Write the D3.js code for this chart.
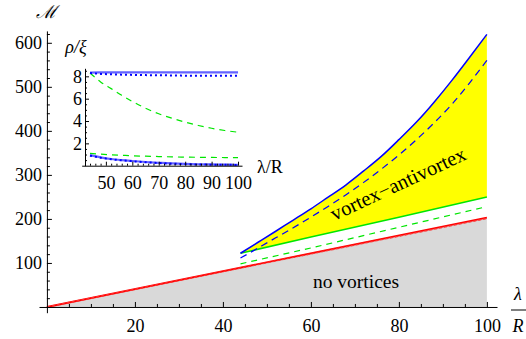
<!DOCTYPE html>
<html>
<head>
<meta charset="utf-8">
<script src="https://cdn.jsdelivr.net/npm/d3@7"></script>
<style>
  html, body { margin: 0; padding: 0; background: #fff; }
  svg { display: block; }
  .axis path, .axis line { stroke: #000; stroke-width: 1; }
</style>
</head>
<body>
<svg id="chart" width="526" height="339"></svg>
<script>
// Phase diagram: critical mass M versus λ/R

// main panel curves (λ/R -> M)
const blueLambda  = [44, 48, 52, 56, 60, 64, 68, 72, 76, 80, 84, 88, 92, 96, 100];
const blueSolid   = [122, 147, 172, 197.5, 223, 250, 277.5, 309, 342, 380, 420, 465, 514, 566, 619];
const blueDashed  = [111, 134, 157, 180, 204, 229, 255, 283, 313, 345, 380, 418, 460, 508, 560];
const greenLambda = [44, 60, 80, 100];
const greenSolid  = [122, 159, 204, 250];
const greenDashed = [98, 134, 181, 228];
const redLambda   = [0, 100];
const redSolid    = [0, 203];
const redDashed   = [0, 201];

// tick values of the main panel
const xMajor = [20, 40, 60, 80, 100];
const yMajor = [100, 200, 300, 400, 500, 600];

// inset curves (λ/R -> ρ/ξ)
const insetLambda      = [44, 48, 52, 56, 60, 65, 70, 75, 80, 85, 90, 95, 100];
const insetBlueUpper   = [8.33, 8.35, 8.36, 8.36, 8.36, 8.36, 8.36, 8.36, 8.36, 8.36, 8.36, 8.36, 8.36];
const insetDotUpper    = [8.3, 8.22, 8.18, 8.15, 8.13, 8.11, 8.1, 8.08, 8.06, 8.05, 8.05, 8.05, 8.05];
const insetGreenUpper  = [8.3, 7.5, 6.9, 6.3, 5.75, 5.15, 4.65, 4.25, 3.9, 3.6, 3.35, 3.15, 3.0];
const insetGreenLower  = [1.1, 1.03, 0.97, 0.93, 0.89, 0.85, 0.82, 0.79, 0.77, 0.75, 0.74, 0.73, 0.72];
const insetBlueLower   = [0.95, 0.75, 0.6, 0.5, 0.42, 0.33, 0.26, 0.2, 0.16, 0.13, 0.11, 0.09, 0.08];
const insetDotLower    = [0.9, 0.72, 0.58, 0.48, 0.4, 0.31, 0.24, 0.18, 0.14, 0.11, 0.09, 0.08, 0.07];
const insetXTicks = [50, 60, 70, 80, 90, 100];
const insetYTicks = [2, 4, 6, 8];

const SERIF = "'Liberation Serif', 'Times New Roman', Times, serif";
const BLUE = "#0000ff", GREEN = "#00e600", RED = "#ff0000";
const svg = d3.select("#chart");

// ---------- main panel ----------
const x = d3.scaleLinear().domain([-1.8, 102.3]).range([39, 497]);
const y = d3.scaleLinear().domain([-13, 627]).range([312.7, 30.9]);

const zip = (xs, ys) => xs.map((v, i) => [v, ys[i]]);
const line = d3.line().x(d => x(d[0])).y(d => y(d[1]));
const curve = d3.line().x(d => x(d[0])).y(d => y(d[1])).curve(d3.curveNatural);

// region with no vortices (under the red curve)
const redAt = d3.scaleLinear().domain(redLambda).range(redSolid);
svg.append("path")
  .attr("d", d3.area().x(d => x(d)).y0(y(0)).y1(d => y(redAt(d)))(redLambda))
  .attr("fill", "#d9d9d9");

// vortex-antivortex region between green and blue solid curves
const greenAt = d3.scaleLinear().domain(greenLambda).range(greenSolid);
svg.append("path")
  .attr("d", d3.area().x(d => x(d[0])).y0(d => y(greenAt(d[0]))).y1(d => y(d[1]))
    .curve(d3.curveNatural)(zip(blueLambda, blueSolid)))
  .attr("fill", "#ffff00");

// boundary curves
svg.append("path").attr("d", line(zip(redLambda, redSolid)))
  .attr("fill", "none").attr("stroke", RED).attr("stroke-width", 1.9);
svg.append("path").attr("d", line(zip(redLambda, redDashed)))
  .attr("fill", "none").attr("stroke", "#ff3030").attr("stroke-width", 1.4)
  .attr("stroke-dasharray", "3,2");
svg.append("path").attr("d", line(zip(greenLambda, greenDashed)))
  .attr("fill", "none").attr("stroke", GREEN).attr("stroke-width", 1.2)
  .attr("stroke-dasharray", "6,5");
svg.append("path").attr("d", line(zip(greenLambda, greenSolid)))
  .attr("fill", "none").attr("stroke", GREEN).attr("stroke-width", 1.5);
svg.append("path").attr("d", curve(zip(blueLambda, blueDashed)))
  .attr("fill", "none").attr("stroke", BLUE).attr("stroke-width", 1.2)
  .attr("stroke-dasharray", "7,5");
svg.append("path").attr("d", curve(zip(blueLambda, blueSolid)))
  .attr("fill", "none").attr("stroke", BLUE).attr("stroke-width", 1.5);

// axes
const xMinor = d3.range(5, 101, 5).filter(v => v % 20 !== 0);
const yMinor = d3.range(20, 621, 20).filter(v => v % 100 !== 0);
const styleAxis = g => g.attr("font-family", SERIF).attr("font-size", 18)
  .call(s => s.selectAll("text").attr("fill", "#000"));

svg.append("g").attr("class", "axis").attr("transform", `translate(0,${y(0)})`)
  .call(d3.axisBottom(x).tickValues(xMinor).tickFormat("").tickSizeInner(-3).tickSizeOuter(0))
  .call(g => g.select(".domain").remove());
svg.append("g").attr("class", "axis").attr("transform", `translate(0,${y(0)})`)
  .call(d3.axisBottom(x).tickValues(xMajor).tickSizeInner(-5).tickSizeOuter(0).tickPadding(12))
  .call(styleAxis);

svg.append("g").attr("class", "axis").attr("transform", `translate(${x(0)},0)`)
  .call(d3.axisLeft(y).tickValues(yMinor).tickFormat("").tickSizeInner(-3).tickSizeOuter(0))
  .call(g => g.select(".domain").remove());
svg.append("g").attr("class", "axis").attr("transform", `translate(${x(0)},0)`)
  .call(d3.axisLeft(y).tickValues(yMajor).tickSizeInner(-5).tickSizeOuter(0).tickPadding(5))
  .call(styleAxis);

// text helper
const label = (parent, px, py, txt, size, opts = {}) => parent.append("text")
  .attr("x", px).attr("y", py).attr("font-family", opts.family || SERIF)
  .attr("font-size", size).attr("font-style", opts.italic ? "italic" : "normal")
  .attr("text-anchor", opts.anchor || "middle").attr("fill", "#000").text(txt);

// axis labels
label(svg, 46, 18, "ℳ", 18, { family: "'DejaVu Serif', serif", italic: true });
label(svg, 518, 300, "λ", 18, { italic: true });
svg.append("line").attr("x1", 511).attr("x2", 526).attr("y1", 310).attr("y2", 310)
  .attr("stroke", "#000").attr("stroke-width", 1);
label(svg, 518, 332, "R", 18, { italic: true });

// region labels
label(svg, 356, 288, "no vortices", 19.5);
label(svg, 0, 0, "vortex\u2212antivortex", 20.5)
  .attr("transform", "translate(401,190) rotate(-25)");

// ---------- inset: vortex sizes ----------
const xi = d3.scaleLinear().domain([40.85, 101.5]).range([81.7, 242]);
const yi = d3.scaleLinear().domain([0, 8.72]).range([165.7, 68.3]);
const iline = d3.line().x(d => xi(d[0])).y(d => yi(d[1])).curve(d3.curveMonotoneX);
const inset = svg.append("g");

inset.append("path").attr("d", iline(zip(insetLambda, insetGreenUpper)))
  .attr("fill", "none").attr("stroke", GREEN).attr("stroke-width", 1.2).attr("stroke-dasharray", "6,5");
inset.append("path").attr("d", iline(zip(insetLambda, insetGreenLower)))
  .attr("fill", "none").attr("stroke", GREEN).attr("stroke-width", 1.2).attr("stroke-dasharray", "6,5");
inset.append("path").attr("d", iline(zip(insetLambda, insetBlueUpper)))
  .attr("fill", "none").attr("stroke", "#3c3cff").attr("stroke-opacity", 0.8).attr("stroke-width", 2.2);
inset.append("path").attr("d", iline(zip(insetLambda, insetBlueLower)))
  .attr("fill", "none").attr("stroke", "#3c3cff").attr("stroke-opacity", 0.8).attr("stroke-width", 2.2);
inset.append("path").attr("d", iline(zip(insetLambda, insetDotUpper)))
  .attr("fill", "none").attr("stroke", BLUE).attr("stroke-width", 2).attr("stroke-dasharray", "2,3");
inset.append("path").attr("d", iline(zip(insetLambda, insetDotLower)))
  .attr("fill", "none").attr("stroke", BLUE).attr("stroke-width", 2).attr("stroke-dasharray", "2,3");

const ixMinor = d3.range(44, 101, 2).filter(v => v % 10 !== 0);
const iyMinor = d3.range(0.5, 8.6, 0.5).filter(v => v % 2 !== 0);

inset.append("g").attr("class", "axis").attr("transform", `translate(0,${yi(0)})`)
  .call(d3.axisBottom(xi).tickValues(ixMinor).tickFormat("").tickSizeInner(-2).tickSizeOuter(0))
  .call(g => g.select(".domain").remove());
inset.append("g").attr("class", "axis").attr("transform", `translate(0,${yi(0)})`)
  .call(d3.axisBottom(xi).tickValues(insetXTicks).tickSizeInner(-4).tickSizeOuter(0).tickPadding(11))
  .call(styleAxis);
inset.append("g").attr("class", "axis").attr("transform", `translate(${xi(42.1)},0)`)
  .call(d3.axisLeft(yi).tickValues(iyMinor).tickFormat("").tickSizeInner(-2).tickSizeOuter(0))
  .call(g => g.select(".domain").remove());
inset.append("g").attr("class", "axis").attr("transform", `translate(${xi(42.1)},0)`)
  .call(d3.axisLeft(yi).tickValues(insetYTicks).tickSizeInner(-4).tickSizeOuter(0).tickPadding(3))
  .call(styleAxis);

label(inset, 76, 53, "ρ/ξ", 18, { italic: true });
label(inset, 257, 173, "λ/R", 18, { anchor: "start" });
</script>
</body>
</html>
